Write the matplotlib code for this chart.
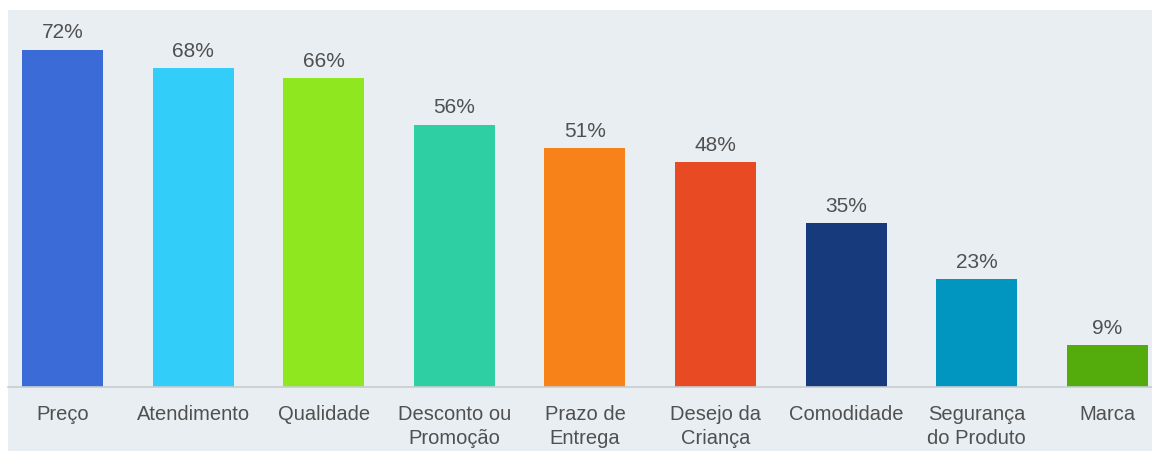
import matplotlib
matplotlib.use("Agg")
import matplotlib.pyplot as plt
from matplotlib.patches import Rectangle

categories = ["Preço", "Atendimento", "Qualidade", "Desconto ou\nPromoção", "Prazo de\nEntrega",
              "Desejo da\nCriança", "Comodidade", "Segurança\ndo Produto", "Marca"]
values = [72, 68, 66, 56, 51, 48, 35, 23, 9]
colors = ["#3a6bd6", "#33cdf9", "#8fe81f", "#2ecfa2", "#f8821a",
          "#e84b24", "#173a7c", "#0096c0", "#54ab0c"]

W, H = 1152, 451
BG = "#e8eef2"
TXT = "#505050"

plt.rcParams["font.family"] = ["Liberation Sans", "DejaVu Sans"]

fig = plt.figure(figsize=(W / 100, H / 100), dpi=100, facecolor="white")

# light panel behind the chart, leaving a thin white margin top/left
fig.patches.append(Rectangle((8 / W, 0), 1 - 8 / W, 1 - 10 / H,
                             transform=fig.transFigure, facecolor=BG,
                             edgecolor="none", zorder=-1))

# axes: baseline at y=387px, top at y=12px
ax = fig.add_axes([8 / W, (H - 387) / H, 1 - 8 / W, (387 - 12) / H])
ax.set_facecolor("none")

x = list(range(len(values)))
ax.bar(x, values, width=0.62, color=colors, zorder=2)

for xi, v in zip(x, values):
    ax.text(xi, v + 1.5, f"{v}%", ha="center", va="bottom",
            fontsize=15, color=TXT)

ax.set_ylim(0, 80)
ax.set_xlim(-0.417, 8.341)
ax.set_yticks([])
ax.set_xticks(x)
ax.set_xticklabels(categories, fontsize=14.5, color=TXT, linespacing=1.35)
ax.tick_params(axis="x", length=0, pad=13)

for s in ["top", "right", "left"]:
    ax.spines[s].set_visible(False)
ax.spines["bottom"].set_color("#c8cdd2")
ax.spines["bottom"].set_linewidth(1.2)

fig.savefig("out.png", dpi=100, facecolor="white")
